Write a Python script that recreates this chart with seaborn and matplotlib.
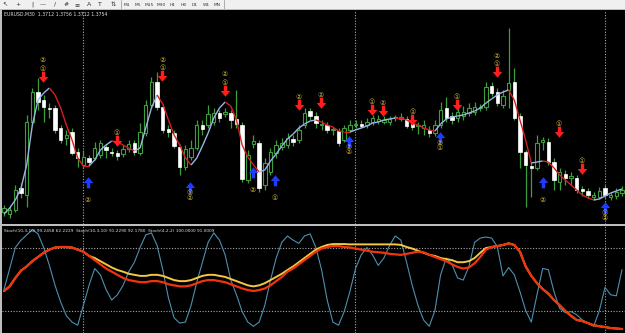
import numpy as np
import pandas as pd
import matplotlib
matplotlib.use('Agg')
import matplotlib.pyplot as plt
import seaborn as sns
from matplotlib.path import Path
from matplotlib.collections import LineCollection

sns.set_theme(style='dark')
plt.rcParams['font.family'] = ['DejaVu Sans', 'Noto Sans CJK JP']

# ---------------- data (prices in points) ----------------
opens = [13, 11, 15, 37, 30, 103, 133, 125, 117, 117, 97, 87, 93, 73, 60, 67, 67, 70, 78, 73,
         72, 71, 76, 82, 72, 92, 120, 143, 118, 96, 92, 78, 58, 68, 77, 100, 100, 103, 112, 111,
         112, 106, 100, 45, 81, 82, 40, 53, 72, 78, 80, 86, 85, 100, 114, 109, 100, 100, 95, 94,
         85, 95, 100, 101, 100, 103, 104, 103, 103, 107, 106, 106, 101, 99, 97, 95, 92, 100, 117, 109,
         107, 109, 112, 113, 117, 118, 139, 133, 120, 135, 143, 109, 73, 59, 57, 83, 83, 63, 43, 51,
         47, 47, 36, 34, 28, 28, 37, 28, 29, 32]
closes = [17, 15, 35, 32, 103, 133, 123, 118, 116.5, 95, 85, 90, 72, 67, 68, 63, 77, 82, 75, 72,
          69, 76, 81, 73, 93, 120, 143, 118, 95, 93, 79, 58, 76, 77, 100, 96, 111, 112, 107, 113,
          105, 101, 46, 70, 84, 37, 62, 73, 80, 82, 87, 83, 95, 112, 109, 102, 100.5, 95, 95.5, 82,
          97, 100, 100.5, 99, 103, 107, 106, 105, 106, 107.5, 108, 99, 98, 99.5, 100, 92, 100, 115, 107, 105,
          113, 113, 117, 118, 117.5, 138, 132, 122, 129, 142, 107, 73, 60, 57, 82, 85, 63, 45, 53, 47,
          49, 35, 34, 30, 30, 34, 30, 30, 33, 35]
highs = [20, 19, 40, 42, 110, 137, 147, 130, 122, 120, 100, 95, 97, 77, 75, 70, 83, 85, 81, 77,
         75, 80, 85, 85, 102, 125, 148, 153, 121, 100, 95, 81, 80, 85, 105, 105, 120, 117, 115, 117,
         115, 135, 103, 75, 90, 85, 67, 77, 85, 87, 92, 90, 100, 117, 117, 113, 105, 103, 98, 97,
         100, 105, 105, 105, 107, 110, 110, 109, 109, 110, 112, 109, 105, 103, 105, 99, 105, 123, 128, 113,
         120, 119, 122, 123, 121, 143, 143, 137, 135, 197, 157, 112, 75, 63, 90, 88, 87, 67, 57, 55,
         53, 50, 39, 37, 33, 38, 40, 33, 37, 39]
lows = [9, 7, 13, 27, 18, 100, 115, 103, 107, 92, 82, 80, 70, 58, 57, 60, 65, 67, 67, 69,
        65, 68, 73, 70, 70, 89, 117, 115, 92, 88, 77, 50, 55, 65, 75, 90, 97, 100, 103, 108,
        97, 97, 43, 42, 77, 33, 35, 50, 67, 75, 77, 79, 82, 97, 105, 97, 95, 92, 90, 79,
        83, 93, 97, 97, 97, 100, 101, 101, 100, 104, 104, 97, 95, 91, 90, 88, 89, 97, 103, 101,
        103, 105, 109, 110, 114, 115, 129, 119, 117, 117, 105, 57, 18, 28, 55, 75, 60, 35, 35, 40,
        40, 32, 29, 27, 25, 26, 27, 25, 26, 29]
trend_ma = [11, 17, 25, 37, 60, 100, 125, 132, 137, 130, 117, 100, 85, 67, 59, 59, 65, 75, 80, 84,
            83, 80, 77, 74, 77, 97, 117, 130, 121, 105, 90, 80, 67, 60, 67, 79, 92, 107, 117, 123,
            119, 105, 80, 68, 60, 53, 55, 64, 71, 79, 86, 91, 97, 101, 104, 105, 103, 100, 98, 94,
            93, 93, 95, 97, 99, 102, 103, 105, 106, 107, 107, 105, 102, 100, 97, 95, 94, 101, 106, 108,
            109, 110, 112, 114, 117, 122, 126, 130, 133, 135, 125, 105, 85, 62, 63, 64, 63, 57, 50, 45,
            40, 35, 30, 27, 25, 26, 29, 32, 34, 36]

stoch_fast = [40, 60, 80, 87, 92, 97, 93, 80, 63, 44, 28, 15, 9, 6, 25, 44, 60, 54, 40, 30,
              35, 44, 57, 66, 80, 92, 94, 82, 59, 32, 13, 8, 9, 25, 47, 66, 85, 94, 87, 73,
              49, 35, 19, 9, 5, 9, 25, 49, 70, 85, 91, 87, 84, 91, 93, 80, 59, 30, 9, 6,
              19, 38, 60, 73, 80, 73, 63, 70, 82, 91, 87, 66, 44, 25, 11, 5, 20, 54, 70, 64,
              51, 49, 62, 85, 89, 90, 89, 81, 53, 61, 54, 38, 20, 9, 35, 60, 59, 38, 22, 18,
              19, 16, 11, 8, 5, 20, 42, 35, 34, 59]
stoch_main = [38.6, 43, 51, 58, 62, 67, 71, 75, 78, 80, 80.5, 80.5, 80, 78, 76, 72, 68, 64, 60, 57,
              54, 51, 49, 48, 47, 47, 48, 48, 47, 45, 44, 43, 43, 44, 46, 48, 49, 49, 48, 47,
              45, 43, 41, 39.5, 38.6, 39.5, 41, 44, 48, 52, 57, 60, 64, 68, 72, 76, 79, 80.5, 81.4, 81.4,
              80.5, 80, 79, 78, 77, 76, 75.5, 75, 74, 73.5, 73, 74, 75, 76, 75.5, 73, 71, 69, 67, 64,
              61.5, 60, 61, 65, 71, 78, 80.5, 81.4, 82.4, 84, 82.4, 76, 62, 53, 46, 40.5, 36, 30, 25, 19.5,
              15, 11, 10, 8, 6, 5, 4.3, 3.3, 2.9, 2.4]
stoch_signal = [38.6, 43, 51, 58, 62, 67, 71, 75, 78, 80, 80.5, 80.5, 80, 78, 76, 72, 70, 67, 64, 61,
                58.6, 57, 55, 54, 53, 53, 54, 54, 53, 51, 49, 48, 48, 49, 51, 53, 54, 54, 53, 52,
                50, 48, 46, 44, 43, 44, 46, 49, 52, 55, 58.6, 62, 66, 70, 74, 78, 80.5, 82.4, 83.3, 83.3,
                83.3, 83, 83, 83, 83, 83, 83, 83, 83, 83, 82.5, 80.5, 79, 77, 75, 73, 72, 70, 69, 68,
                66, 66, 67, 70, 75, 79.5, 80.5, 81.4, 82.4, 84, 82.4, 76, 62, 53, 46, 40.5, 36, 30, 25, 19.5,
                15, 11, 10, 8, 6, 5, 4.3, 3.3, 2.9, 2.4]

# trade signals: candle index, price, circled labels
sell_idx = [6.9, 27.9, 19.9, 38.9, 52.0, 55.9, 64.9, 66.8, 72.0, 79.9, 86.9, 97.9, 101.9]
sell_price = [148, 149, 84, 134, 120, 122, 115, 114, 105, 120, 153, 93, 56]
sell_tags = [['①', '②'], ['①', '②'], ['①'], ['①', '②'], ['②'], ['②'], ['①'], ['②'], ['①'],
             ['①'], ['①', '②'], ['①'], ['①']]
buy_idx = [14.8, 32.8, 43.9, 47.8, 60.8, 76.9, 95.0, 106.0]
buy_price = [43, 38, 53, 45, 84, 88, 43, 18]
buy_tags = [['②'], ['①', '②'], ['②'], ['①'], ['②', '②'], ['②', '①'], ['②'], ['①', '②']]

separators = [13.9, 61.9, 106.0]
timeframes = ['M1', 'M5', 'M15', 'M30', 'H1', 'H4', 'D1', 'W1', 'MN']

n = len(closes)
idx = np.arange(n)
df = pd.DataFrame({'i': idx, 'open': opens, 'close': closes, 'high': highs, 'low': lows,
                   'ma': trend_ma, 'fast': stoch_fast, 'main': stoch_main, 'signal': stoch_signal})

# ---------------- figure ----------------
W, H = 625, 333
fig = plt.figure(figsize=(W / 100, H / 100), dpi=100, facecolor='#BEBEBE')

# toolbar
axt = fig.add_axes([0, (H - 9) / H, 1, 9 / H])
axt.set_facecolor('#F0F0F0')
axt.set_xlim(0, W)
axt.set_ylim(0, 1)
axt.set_xticks([])
axt.set_yticks([])
for s in axt.spines.values():
    s.set_visible(False)
icons = [(5, '↖'), (18, '+'), (32, '|'), (43, '—'), (55, '/'), (66, '#'), (77, '≡'), (89, 'A'), (100, 'T'), (113, '⇅')]
for x, g in icons:
    axt.text(x, 0.5, g, fontsize=4.5, ha='center', va='center', color='#333333')
for x in [121, 224]:
    axt.axvline(x, color='#A0A0A0', lw=0.6)
for k, tf in enumerate(timeframes):
    axt.text(127 + k * 11.3, 0.5, tf, fontsize=3.2, ha='center', va='center', color='#333333')

# main price panel
ax = fig.add_axes([2 / W, (H - 224) / H, 1 - 2 / W, 214 / H])
ax.set_facecolor('black')
x0 = -2 / 5.67
ax.set_xlim(x0, x0 + (W - 2) / 5.67)
ax.set_ylim(1, 215)
ax.set_xticks([])
ax.set_yticks([])
for s in ax.spines.values():
    s.set_visible(False)

green = '#3E9E3E'
ax.vlines(df['i'], df['low'], df['high'], color=green, lw=0.9, zorder=2)
bull = df[df['close'] >= df['open']]
bear = df[df['close'] < df['open']]
ax.bar(bull['i'], (bull['close'] - bull['open']).clip(lower=0.8), bottom=bull['open'], width=0.6,
       color='black', edgecolor=green, linewidth=0.8, zorder=3)
ax.bar(bear['i'], (bear['open'] - bear['close']), bottom=bear['close'], width=0.6,
       color='white', edgecolor='white', linewidth=0.5, zorder=3)

# trend MA coloured by direction
pts = np.column_stack([df['i'], df['ma']])
segs = np.stack([pts[:-1], pts[1:]], axis=1)
cols = ['#9DB4E6' if b > a else '#D42020' for a, b in zip(trend_ma[:-1], trend_ma[1:])]
ax.add_collection(LineCollection(segs, colors=cols, linewidths=1.0, zorder=4))

for sx in separators:
    ax.axvline(sx, color='#A8A8A8', lw=0.8, ls=(0, (1, 1.5)), zorder=1)

down = Path([(-0.16, 0.55), (0.16, 0.55), (0.16, 0.05), (0.45, 0.05), (0, -0.5), (-0.45, 0.05),
             (-0.16, 0.05), (-0.16, 0.55)],
            [Path.MOVETO] + [Path.LINETO] * 6 + [Path.CLOSEPOLY])
up = Path([(x, -y) for x, y in down.vertices], down.codes)
ax.scatter(sell_idx, sell_price, marker=down, s=70, color='#FF1E1E', zorder=6, linewidths=0)
ax.scatter(buy_idx, buy_price, marker=up, s=70, color='#1E3CFF', zorder=6, linewidths=0)
tagc = '#D8C040'
for xi, p, tags in zip(sell_idx, sell_price, sell_tags):
    for k, t in enumerate(tags):
        ax.text(xi, p + 8 + 8.5 * k, t, fontsize=5, ha='center', va='center', color=tagc, zorder=7)
for xi, p, tags in zip(buy_idx, buy_price, buy_tags):
    off = 10 if len(tags) == 1 else 6
    for k, t in enumerate(tags):
        ax.text(xi, p - off - 5.5 * k - (8 if len(tags) == 1 else 0), t, fontsize=5, ha='center',
                va='center', color=tagc, zorder=7)

ax.text(0.004, 0.98, 'EURUSD,M30  1.3712 1.3756 1.3712 1.3754', transform=ax.transAxes,
        fontsize=3.3, color='#E0E0E0', va='center', ha='left')

# stochastic panel
axs = fig.add_axes([2 / W, 0, 1 - 2 / W, (H - 226) / H])
axs.set_facecolor('black')
axs.set_xlim(ax.get_xlim())
axs.set_ylim(-1.4, 100.5)
for lvl in [20, 80]:
    axs.axhline(lvl, color='#A8A8A8', lw=0.8, ls=(0, (1, 1.5)), zorder=1)
for sx in separators:
    axs.axvline(sx, color='#A8A8A8', lw=0.8, ls=(0, (1, 1.5)), zorder=1)
sns.lineplot(data=df, x='i', y='fast', ax=axs, color='#4F8FAE', lw=0.8, zorder=2)
sns.lineplot(data=df, x='i', y='signal', ax=axs, color='#F5C842', lw=1.4, zorder=3)
sns.lineplot(data=df, x='i', y='main', ax=axs, color='#F2330E', lw=1.6, zorder=4)
axs.set_xticks([])
axs.set_yticks([])
axs.set_xlabel('')
axs.set_ylabel('')
for s in axs.spines.values():
    s.set_visible(False)
axs.text(0.004, 0.955, 'Stoch(10,3,10) 99.2458 62.2229  Stoch(10,3,10) 91.2290 92.1780  Stoch(4,2,2) 100.0000 91.0009',
         transform=axs.transAxes, fontsize=3.1, color='#E0E0E0', va='center', ha='left')

fig.savefig('out.png', dpi=100, facecolor=fig.get_facecolor())
